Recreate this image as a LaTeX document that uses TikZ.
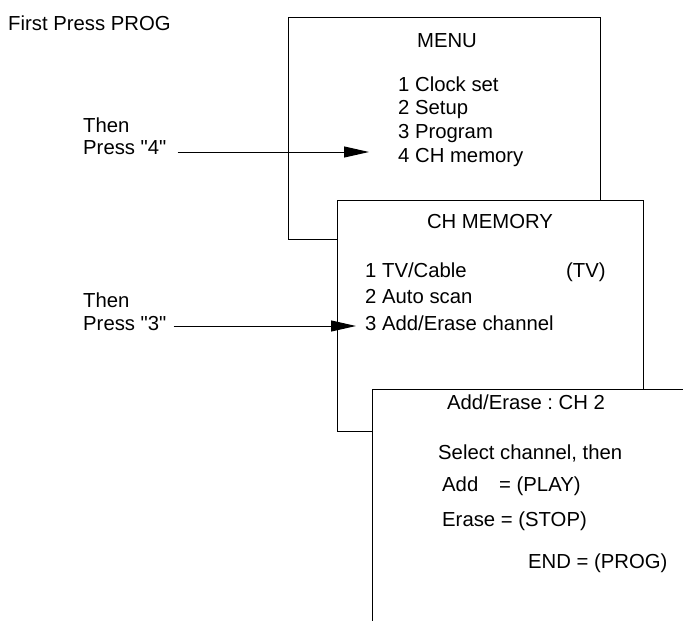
\documentclass[tikz,border=0pt]{standalone}
\usepackage{fontspec}
\setmainfont{Liberation Sans}
\usetikzlibrary{arrows.meta}
\frenchspacing
\tikzset{
  txt/.style={font=\fontsize{20.3}{24}\selectfont, inner sep=0pt, anchor=base west},
  ttl/.style={txt, anchor=base},
  screen/.style={draw, line width=1pt, fill=white},
  arr/.style={line width=1pt, -{Triangle[length=25pt,width=11pt]}}
}
\begin{document}
\begin{tikzpicture}[x=1pt,y=-1pt]
    \clip (0,0) rectangle (683,621);
    \fill[white] (0,0) rectangle (683,621);
    % left hand labels
    \node[txt] (first) at (8,30) {First Press PROG};
    \node[txt] (then4) at (83,132) {Then};
    \node[txt] (p4) at (83,154) {Press \textquotedbl4\textquotedbl};
    \node[txt] (then3) at (83,307) {Then};
    \node[txt] (p3) at (83,330) {Press \textquotedbl3\textquotedbl};
    % MENU screen
    \draw[screen] (288,17) rectangle (600,239);
    \node[ttl] (menu) at (447,47) {MENU};
    \node[txt] (m1) at (398,91) {1 Clock set};
    \node[txt] (m2) at (398,114) {2 Setup};
    \node[txt] (m3) at (398,138) {3 Program};
    \node[txt] (m4) at (398,162) {4 CH memory};
    % CH MEMORY screen
    \draw[screen] (337,200) rectangle (643,431);
    \node[ttl] (chmem) at (490,228) {CH MEMORY};
    \node[txt] (c1) at (365,277) {1 TV/Cable};
    \node[txt] (c1v) at (566,277) {(TV)};
    \node[txt] (c2) at (365,303) {2 Auto scan};
    \node[txt] (c3) at (365,330) {3 Add/Erase channel};
    % Add/Erase screen
    \draw[screen] (372,389) rectangle (720,660);
    \node[ttl] (addera) at (526,409) {Add/Erase : CH 2};
    \node[txt] (sel) at (438,459) {Select channel, then};
    \node[txt] (add) at (442,491) {Add};
    \node[txt] (addv) at (499,491) {= (PLAY)};
    \node[txt] (era) at (442,526) {Erase = (STOP)};
    \node[txt] (fin) at (528,568) {END = (PROG)};
    % arrows
    \coordinate (s4) at ([xshift=11pt,yshift=2pt]p4.base east);
    \draw[arr, shorten >=29pt] (s4) -- (s4 -| m4.west);
    \coordinate (s3) at ([xshift=7pt,yshift=4pt]p3.base east);
    \draw[arr, shorten >=9pt] (s3) -- (s3 -| c3.west);
\end{tikzpicture}
\end{document}
